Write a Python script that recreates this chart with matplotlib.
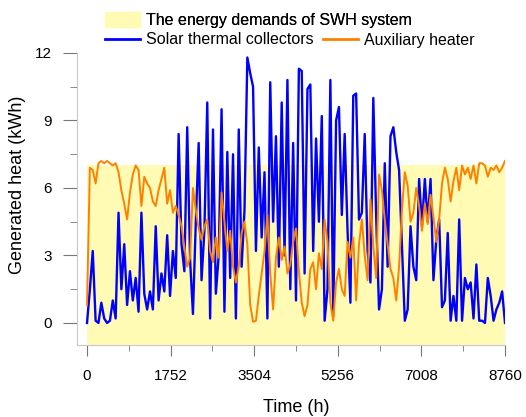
import numpy as np
import matplotlib
matplotlib.use('Agg')
import matplotlib.pyplot as plt
from matplotlib.patches import Patch
from matplotlib.lines import Line2D

plt.rcParams['font.family'] = ['Liberation Sans', 'DejaVu Sans']

# values, one sample every 60 h
step_h = 60
solar = [0.0, 1.5, 3.2, 0.1, 0.0, 0.9, 0.2, 0.0, 0.1, 1.0,
         0.2, 4.9, 1.5, 3.5, 0.8, 2.3, 1.0, 2.0, 0.5, 4.9,
         1.3, 0.6, 1.4, 0.6, 4.3, 1.0, 2.2, 1.4, 3.9, 1.2,
         3.2, 2.0, 8.4, 3.5, 2.3, 8.7, 2.8, 0.4, 4.5, 8.0,
         1.9, 4.1, 9.8, 0.2, 8.6, 1.3, 3.0, 9.5, 0.5, 7.6,
         2.0, 7.5, 0.2, 8.6, 2.5, 5.0, 11.8, 11.1, 10.5, 3.2,
         7.8, 3.8, 6.7, 0.2, 10.7, 4.5, 8.3, 2.5, 9.8, 3.0,
         10.8, 1.5, 8.0, 1.0, 11.3, 11.2, 2.2, 10.4, 10.6, 3.2,
         8.2, 4.5, 9.2, 0.1, 1.5, 10.8, 0.3, 9.0, 9.6, 4.8,
         8.4, 4.1, 0.9, 10.1, 10.2, 4.6, 4.9, 8.4, 3.2, 1.8,
         10.0, 4.7, 0.6, 1.5, 7.1, 2.5, 8.3, 8.7, 7.6, 6.8,
         3.4, 0.1, 0.6, 4.3, 2.5, 1.9, 6.4, 4.3, 6.4, 4.5,
         6.4, 1.9, 3.7, 4.6, 0.7, 1.0, 4.0, 0.1, 1.2, 0.1,
         4.6, 0.1, 2.0, 1.5, 1.8, 0.2, 2.6, 0.1, 0.1, 0.0,
         2.0, 1.2, 0.1, 0.6, 0.9, 1.4, 0.0]
auxiliary = [0.8, 6.9, 6.8, 6.2, 7.1, 7.2, 7.1, 7.2, 7.1, 7.0,
             7.1, 6.7, 5.9, 5.3, 4.6, 5.8, 6.6, 7.0, 6.8, 5.2,
             6.5, 6.2, 6.0, 5.4, 5.2, 5.9, 6.4, 6.9, 5.3, 5.9,
             4.9, 5.2, 4.8, 4.3, 3.4, 2.5, 2.9, 6.0, 5.0, 4.2,
             3.7, 4.3, 4.6, 3.2, 2.7, 3.8, 2.9, 5.8, 4.5, 3.2,
             4.1, 2.5, 1.8, 2.5, 4.0, 4.5, 3.5, 0.8, 0.05, 0.1,
             1.2, 2.2, 3.2, 4.8, 2.2, 0.6, 2.9, 3.8, 2.8, 3.4,
             2.2, 2.6, 3.6, 4.2, 2.3, 0.9, 0.3, 0.8, 2.4, 2.7,
             1.5, 3.1, 2.4, 4.6, 3.6, 0.9, 0.1, 1.8, 2.4, 1.5,
             1.2, 3.6, 2.9, 3.8, 1.0, 3.5, 4.6, 3.0, 1.9, 5.5,
             3.4, 2.0, 6.6, 5.9, 4.6, 3.5, 2.4, 2.0, 1.0, 2.5,
             5.0, 6.7, 6.1, 4.5, 4.9, 6.0, 5.2, 4.1, 5.3, 4.4,
             5.7, 4.7, 3.6, 4.6, 6.2, 6.9, 6.4, 5.4, 6.3, 6.9,
             5.9, 7.0, 6.6, 6.9, 6.4, 7.0, 6.2, 7.1, 7.1, 7.0,
             6.5, 6.9, 6.8, 7.0, 6.7, 6.9, 7.2]

# energy demand of the SWH system, per month (h at month start)
month_start_h = [0, 744, 1416, 2160, 2880, 3624, 4344, 5088, 5832, 6552, 7296, 8016, 8760]
demand = [7.0, 7.0, 7.0, 7.0, 7.0, 7.0, 7.0, 7.0, 7.0, 7.0, 7.0, 7.0, 7.0]

x_ticks = [0, 1752, 3504, 5256, 7008, 8760]
y_ticks = [0, 3, 6, 9, 12]

time_h = np.arange(len(solar)) * step_h

fig = plt.figure(figsize=(5.26, 4.17), dpi=100)
ax = fig.add_axes([77/526, 72/417, 428/526, 292/417])

ymin = -0.98
ax.fill_between(month_start_h, ymin, demand, step='post', color='#FFFBB4', lw=0, zorder=1)
ax.plot(time_h, solar, color='#0000FF', lw=1.7, zorder=2)
ax.plot(time_h, auxiliary, color='#FF8000', lw=1.4, zorder=3)

ax.set_xlim(-210, 8760)
ax.set_ylim(ymin, 12)
ax.set_xticks(x_ticks)
ax.set_xticks(np.arange(876, 8760, 1752), minor=True)
ax.set_yticks(y_ticks)
ax.set_yticks([1.5, 4.5, 7.5, 10.5], minor=True)

for s in ['top', 'right']:
    ax.spines[s].set_visible(False)
for s in ['left', 'bottom']:
    ax.spines[s].set_color('#c8c8c8')
ax.tick_params(axis='both', which='both', direction='out', color='#777777', labelsize=11)
ax.tick_params(axis='x', which='major', length=8, pad=9)
ax.tick_params(axis='x', which='minor', length=4)
ax.tick_params(axis='y', which='major', length=10, pad=8)
ax.tick_params(axis='y', which='minor', length=5)

ax.set_xlabel('Time (h)', fontsize=13)
ax.set_ylabel('Generated heat (kWh)', fontsize=13)
ax.xaxis.set_label_coords(0.512, -0.185)
ax.yaxis.set_label_coords(-0.12, 0.55)

leg1 = fig.legend([Patch(color='#FFFBB4')], ['The energy demands of SWH system'],
                  loc='center left', bbox_to_anchor=(105/526, 1 - 20/417), frameon=False,
                  fontsize=11.5, borderpad=0, borderaxespad=0, handlelength=2.2,
                  handleheight=1.05, handletextpad=0.35)
fig.legend([Line2D([], [], color='#0000FF', lw=2), Line2D([], [], color='#FF8000', lw=2)],
           ['Solar thermal collectors', 'Auxiliary heater'], ncol=2,
           loc='center left', bbox_to_anchor=(105/526, 1 - 40/417), frameon=False,
           fontsize=11.5, borderpad=0, borderaxespad=0, handlelength=2.2,
           handletextpad=0.35, columnspacing=0.6)
fig.add_artist(leg1)

fig.savefig('out.png', dpi=100)
